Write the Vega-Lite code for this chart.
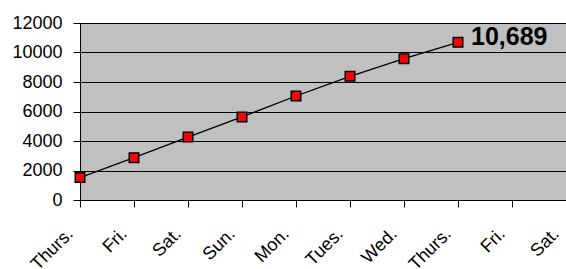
{
  "$schema": "https://vega.github.io/schema/vega-lite/v6.json",
  "width": 486,
  "height": 177,
  "autosize": {"type": "none"},
  "padding": {"left": 80, "top": 23, "right": 0, "bottom": 69},
  "background": "white",
  "config": {
    "view": {"fill": "#C0C0C0", "stroke": "#808080", "strokeWidth": 1},
    "font": "Liberation Sans"
  },
  "data": {
    "values": [
      {"i": 0, "day": "Thurs.", "visits": 1520},
      {"i": 1, "day": "Fri.", "visits": 2870},
      {"i": 2, "day": "Sat.", "visits": 4270},
      {"i": 3, "day": "Sun.", "visits": 5630},
      {"i": 4, "day": "Mon.", "visits": 7050},
      {"i": 5, "day": "Tues.", "visits": 8385},
      {"i": 6, "day": "Wed.", "visits": 9580},
      {"i": 7, "day": "Thurs.", "visits": 10689, "label": "10,689"}
    ]
  },
  "encoding": {
    "x": {
      "field": "i",
      "type": "quantitative",
      "scale": {"domain": [0, 9], "nice": false, "zero": false},
      "axis": {
        "title": null,
        "values": [0, 1, 2, 3, 4, 5, 6, 7, 8, 9],
        "labelExpr": "['Thurs.','Fri.','Sat.','Sun.','Mon.','Tues.','Wed.','Thurs.','Fri.','Sat.'][datum.value]",
        "labelAngle": -45,
        "labelAlign": "right",
        "labelBaseline": "middle",
        "labelFontSize": 18,
        "labelColor": "black",
        "labelPadding": 24,
        "labelOffset": -10,
        "labelOverlap": false,
        "labelBound": false,
        "labelFlush": false,
        "grid": false,
        "domainColor": "black",
        "tickColor": "black",
        "tickSize": 7
      }
    },
    "y": {
      "field": "visits",
      "type": "quantitative",
      "scale": {"domain": [0, 12000], "nice": false},
      "axis": {
        "title": null,
        "values": [0, 2000, 4000, 6000, 8000, 10000, 12000],
        "format": "d",
        "labelFontSize": 18,
        "labelColor": "black",
        "labelPadding": 11,
        "gridColor": "black",
        "gridOpacity": 1,
        "domainColor": "black",
        "tickColor": "black",
        "tickSize": 7,
        "labelFlush": false
      }
    }
  },
  "layer": [
    {"mark": {"type": "line", "color": "black", "strokeWidth": 1.3}},
    {
      "mark": {
        "type": "point",
        "shape": "square",
        "filled": true,
        "fill": "#FF0000",
        "stroke": "black",
        "strokeWidth": 1.5,
        "size": 90,
        "opacity": 1
      }
    },
    {
      "transform": [{"filter": "datum.label != null"}],
      "mark": {
        "type": "text",
        "align": "left",
        "baseline": "middle",
        "dx": 13,
        "dy": -5,
        "fontSize": 25,
        "fontWeight": "bold",
        "color": "black"
      },
      "encoding": {"text": {"field": "label"}}
    }
  ]
}
